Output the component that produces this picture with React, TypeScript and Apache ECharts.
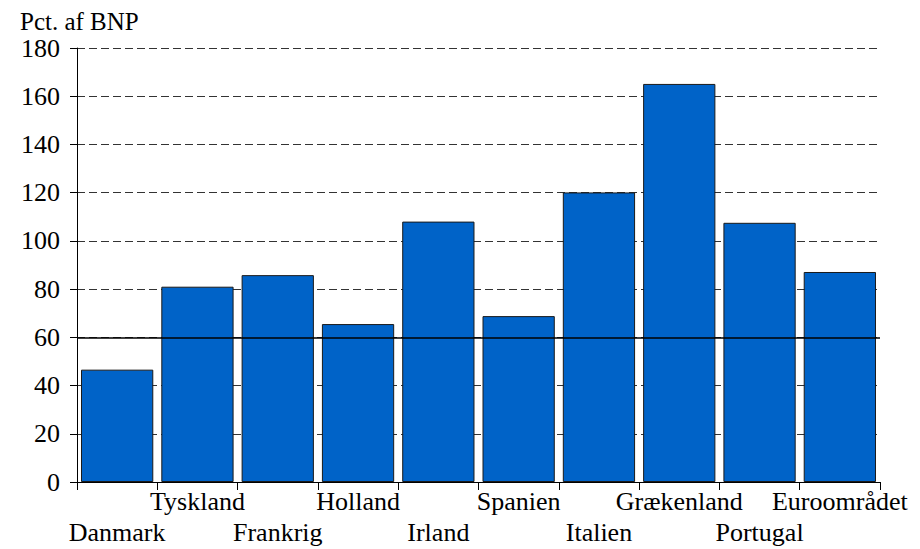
import React, { useEffect, useRef } from "react";
import * as echarts from "echarts";

const categories = ["Danmark", "Tyskland", "Frankrig", "Holland", "Irland", "Spanien", "Italien", "Grækenland", "Portugal", "Euroområdet"];
const debtValues = [46.6, 81.0, 85.8, 65.5, 108.0, 68.8, 120.1, 165.1, 107.5, 87.1];
const referenceLevel = 60;
const yTicks = { min: 0, max: 180, interval: 20 };
const yTitle = "Pct. af BNP";

const FONT = "'Liberation Serif', 'Times New Roman', serif";

export default function App() {
  const ref = useRef<HTMLDivElement>(null);
  useEffect(() => {
    document.body.style.margin = "0";
    if (!ref.current) return;
    const chart = echarts.init(ref.current, null, { renderer: "svg" });
    chart.setOption({
      animation: false,
      backgroundColor: "#ffffff",
      textStyle: { fontFamily: FONT },
      title: {
        text: yTitle,
        left: 20,
        top: 11,
        padding: 0,
        textStyle: { fontFamily: FONT, fontSize: 25, lineHeight: 20, fontWeight: "normal", color: "#000" },
      },
      grid: { left: 77, right: 40, top: 48, bottom: 67, containLabel: false },
      xAxis: {
        type: "category",
        data: categories,
        axisLine: { lineStyle: { color: "#000", width: 1 } },
        axisTick: { show: true, length: 8, lineStyle: { color: "#000" } },
        axisLabel: {
          interval: 0,
          fontFamily: FONT,
          fontSize: 26,
          color: "#000",
          margin: 4,
          verticalAlign: "top",
          lineHeight: 31,
          formatter: (v: string, i: number) => (i % 2 === 0 ? "\n" + v : v),
        },
      },
      yAxis: {
        type: "value",
        min: yTicks.min,
        max: yTicks.max,
        interval: yTicks.interval,
        axisLine: { show: true, lineStyle: { color: "#000", width: 1 } },
        axisTick: { show: true, length: 7, lineStyle: { color: "#000" } },
        axisLabel: { fontFamily: FONT, fontSize: 26, lineHeight: 22, color: "#000", margin: 17 },
        splitLine: { show: true, lineStyle: { color: "#333", type: [8, 4], width: 1 } },
      },
      series: [
        {
          type: "bar",
          data: debtValues,
          barCategoryGap: "10%",
          itemStyle: { color: "#0063C8", borderColor: "#1a1a1a", borderWidth: 1 },
          markLine: {
            silent: true,
            symbol: "none",
            label: { show: false },
            lineStyle: { color: "#000", type: "solid", width: 1.5 },
            data: [{ yAxis: referenceLevel }],
          },
        },
      ],
    });
    return () => chart.dispose();
  }, []);
  return <div ref={ref} style={{ width: 920, height: 549 }} />;
}
